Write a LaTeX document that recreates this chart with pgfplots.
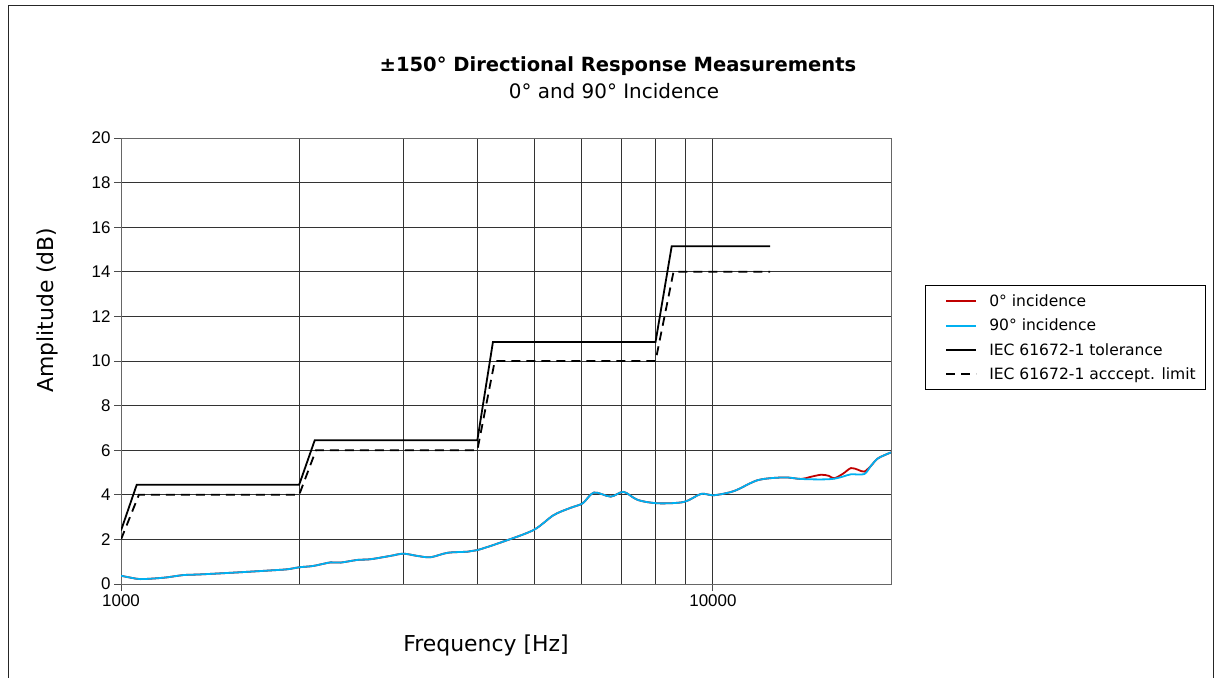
\documentclass[border=0pt]{standalone}
\usepackage{fontspec}
\setmainfont{DejaVu Sans}
\newfontfamily\arialfont{Liberation Sans}
\usepackage{pgfplots}
\pgfplotsset{compat=1.18}
\definecolor{redline}{RGB}{192,0,0}
\definecolor{blueline}{RGB}{0,176,240}

\pgfplotstableread{
f a
1000 0.37
1040 0.28
1077 0.22
1140 0.25
1197 0.30
1274 0.40
1360 0.43
1549 0.51
1766 0.60
1909 0.66
2000 0.75
2113 0.81
2259 0.97
2349 0.96
2508 1.08
2637 1.11
2851 1.26
3000 1.36
3167 1.26
3333 1.20
3563 1.40
3850 1.45
4000 1.52
4400 1.88
4977 2.42
5382 3.09
5754 3.42
6026 3.62
6295 4.10
6720 3.92
7067 4.13
7464 3.77
8069 3.62
8935 3.68
9550 4.04
10040 3.98
10860 4.17
11920 4.66
13190 4.78
14090 4.71
15240 4.69
16030 4.72
16600 4.82
17110 4.92
18020 4.93
18500 5.30
19020 5.64
20000 5.90
}\ninety

\pgfplotstableread{
f a
1000 0.37
1040 0.28
1077 0.22
1140 0.25
1197 0.30
1274 0.40
1360 0.43
1549 0.51
1766 0.60
1909 0.66
2000 0.75
2113 0.81
2259 0.97
2349 0.96
2508 1.08
2637 1.11
2851 1.26
3000 1.36
3167 1.26
3333 1.20
3563 1.40
3850 1.45
4000 1.52
4400 1.88
4977 2.42
5382 3.09
5754 3.42
6026 3.62
6295 4.10
6720 3.92
7067 4.13
7464 3.77
8069 3.62
8935 3.68
9550 4.04
10040 3.98
10860 4.17
11920 4.66
13190 4.78
14090 4.71
14600 4.80
15240 4.90
15700 4.85
16030 4.74
16600 4.95
17110 5.20
17600 5.12
18020 5.04
18500 5.30
19020 5.64
20000 5.90
}\zero

\pgfplotstableread{
f a
1000 2.4
1063 4.45
2000 4.45
2125 6.45
4000 6.45
4250 10.85
8000 10.85
8520 15.15
12500 15.15
}\tol

\pgfplotstableread{
f a
1000 2.0
1072 4.0
2000 4.0
2135 6.0
4000 6.0
4280 10.0
8000 10.0
8580 14.0
12500 14.0
}\acc

\begin{document}
\begin{tikzpicture}
\useasboundingbox (0bp,0bp) rectangle (1216bp,-678bp);
\draw[line width=1bp, black!85] (8bp,-720bp) -- (8bp,-5bp) -- (1213bp,-5bp) -- (1213bp,-720bp);
\node[font=\bfseries\fontsize{19.6}{21}\selectfont] at (618bp,-66bp) {±150° Directional Response Measurements};
\node[font=\fontsize{20}{22}\selectfont] at (614bp,-91bp) {0° and 90° Incidence};
\begin{axis}[
  at={(121bp,-584bp)}, anchor=south west,
  scale only axis, width=770bp, height=446bp,
  xmode=log, xmin=1000, xmax=20000, ymin=0, ymax=20,
  xtick={1000,10000}, xticklabels={1000,10000},
  minor xtick={2000,3000,4000,5000,6000,7000,8000,9000},
  ytick={0,2,...,20},
  xmajorgrids, xminorgrids, ymajorgrids,
  grid style={black!80, line width=0.9bp},
  minor grid style={black!80, line width=0.9bp},
  tick align=outside, xtick pos=bottom, ytick pos=left,
  major tick length=7bp, minor tick length=0pt,
  axis line style={black!60, line width=0.9bp},
  major tick style={black!70, line width=0.9bp},
  tick label style={font=\arialfont\fontsize{17}{17}\selectfont},
  /pgf/number format/assume math mode=true,
  xlabel={Frequency [Hz]},
  ylabel={Amplitude (dB)},
  label style={font=\fontsize{22}{24}\selectfont},
  xlabel style={at={(axis description cs:0.474,0)}, anchor=center, yshift=-61bp},
  ylabel style={at={(axis description cs:-0.0961,0.614)}, anchor=center},
  legend style={at={(1,0.670)}, xshift=34bp, anchor=north west,
    draw=black, line width=0.9bp, font=\fontsize{15.6}{17}\selectfont,
    inner xsep=8bp, inner ysep=7bp, row sep=7bp, cells={anchor=west},
    nodes={inner sep=2bp}},
  legend image code/.code={\path (-12bp,0bp); \draw[#1, line width=2bp] (0bp,0bp) -- (30bp,0bp); \path (40bp,0bp);},
]
\addplot[redline, line width=1.8bp, smooth] table[x=f,y=a] {\zero};
\addlegendentry{0° incidence}
\addplot[blueline, line width=1.8bp, smooth] table[x=f,y=a] {\ninety};
\addlegendentry{90° incidence}
\addplot[black, line width=1.8bp] table[x=f,y=a] {\tol};
\addlegendentry{IEC 61672-1 tolerance}
\addplot[black, line width=1.8bp, dash pattern=on 9bp off 6bp] table[x=f,y=a] {\acc};
\addlegendentry{IEC 61672-1 acccept. limit}
\end{axis}
\end{tikzpicture}
\end{document}
